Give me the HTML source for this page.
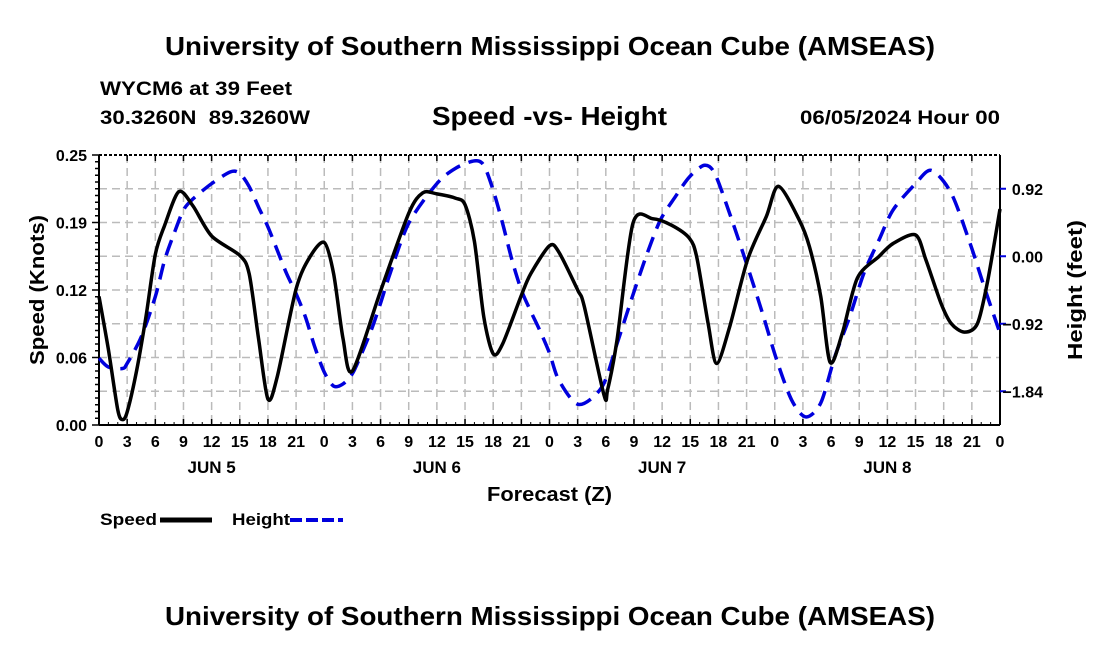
<!DOCTYPE html>
<html><head><meta charset="utf-8"><style>
html,body{margin:0;padding:0;background:#fff;}
svg{display:block;font-family:"Liberation Sans",Arial,sans-serif;font-weight:bold;}
</style></head><body>
<svg id="chart" width="1100" height="650" viewBox="0 0 1100 650">
<text x="165" y="55" font-size="26" textLength="770" lengthAdjust="spacingAndGlyphs">University of Southern Mississippi Ocean Cube (AMSEAS)</text>
<text x="100" y="95" font-size="19" textLength="192" lengthAdjust="spacingAndGlyphs">WYCM6 at 39 Feet</text>
<text x="100" y="124" font-size="19" textLength="210" lengthAdjust="spacingAndGlyphs" xml:space="preserve">30.3260N  89.3260W</text>
<text x="432" y="125" font-size="26" textLength="235" lengthAdjust="spacingAndGlyphs">Speed -vs- Height</text>
<text x="800" y="124" font-size="19" textLength="200" lengthAdjust="spacingAndGlyphs">06/05/2024 Hour 00</text>
<g id="grid"></g>
<g id="axes"></g>
<g id="series"></g>
<text transform="translate(44,290) rotate(-90)" text-anchor="middle" font-size="20" textLength="150" lengthAdjust="spacingAndGlyphs">Speed (Knots)</text>
<text transform="translate(1082,290) rotate(-90)" text-anchor="middle" font-size="20" textLength="140" lengthAdjust="spacingAndGlyphs">Height (feet)</text>
<text x="487" y="501" font-size="20" textLength="125" lengthAdjust="spacingAndGlyphs">Forecast (Z)</text>
<g>
<text x="100" y="525" font-size="17" textLength="57" lengthAdjust="spacingAndGlyphs">Speed</text>
<line x1="160" y1="520" x2="212" y2="520" stroke="#000" stroke-width="5"/>
<text x="232" y="525" font-size="17" textLength="58" lengthAdjust="spacingAndGlyphs">Height</text>
<line x1="290" y1="520" x2="343" y2="520" stroke="#0000dd" stroke-width="4" stroke-dasharray="12,4"/>
</g>
<text x="165" y="625" font-size="26" textLength="770" lengthAdjust="spacingAndGlyphs">University of Southern Mississippi Ocean Cube (AMSEAS)</text>
</svg>
<script>
const speedHours=[0,1,2,2.5,3,4,5,6,7,8.5,10,12,15,16,17,18,19,21,22.5,24,25,26,27,30,33,34.5,36,38,39,40,41,42,43,45,46,48,49,51,51.7,53.8,54.2,55.2,56.9,59,61,62.9,63.7,64.9,65.8,67.2,69.1,71.1,72.4,74.6,75.7,76.9,77.9,79.2,80.8,83.1,84.6,87,88.1,89.7,90.8,92.2,93.6,94.7,96];
const speedValues=[0.119,0.07,0.014,0.005,0.012,0.05,0.10,0.158,0.185,0.216,0.203,0.175,0.157,0.14,0.08,0.024,0.045,0.126,0.156,0.169,0.14,0.08,0.05,0.124,0.196,0.215,0.214,0.21,0.204,0.17,0.10,0.066,0.075,0.12,0.14,0.166,0.16,0.125,0.11,0.028,0.033,0.079,0.187,0.191,0.185,0.173,0.155,0.094,0.057,0.091,0.153,0.193,0.221,0.19,0.165,0.119,0.058,0.085,0.136,0.156,0.168,0.176,0.153,0.113,0.094,0.086,0.094,0.134,0.200];
const heightHours=[0,1,2.5,3,4.5,6,7,8,9,10,12,14,15,16,17,18,19,20,21,22,23,24,25,26,27,28,29,30,31,33,36,38,40,41,42,43,44,45,46,47,48,49,51.1,53.6,55.2,56.7,58.3,59.8,61.4,62.9,64.5,65.6,67.2,69.1,70.7,72.2,73.8,75.3,76.9,78.4,80,81.5,83.1,84.6,87,88.7,90.8,92.8,94.3,96];
const heightValues=[-1.39,-1.51,-1.53,-1.46,-1.10,-0.55,-0.05,0.31,0.63,0.78,0.99,1.15,1.13,0.95,0.67,0.40,0.08,-0.24,-0.51,-0.83,-1.24,-1.58,-1.77,-1.74,-1.60,-1.32,-1.01,-0.64,-0.24,0.45,0.99,1.20,1.30,1.24,0.90,0.45,-0.05,-0.46,-0.75,-1.02,-1.32,-1.69,-2.02,-1.78,-1.19,-0.60,0.0,0.49,0.81,1.08,1.24,1.13,0.58,-0.14,-0.78,-1.41,-1.96,-2.19,-2.0,-1.37,-0.82,-0.23,0.22,0.63,0.99,1.17,0.86,0.18,-0.41,-1.05];
const leftTickValues=[0,0.0625,0.125,0.1875,0.25];
const leftTickLabels=["0.00","0.06","0.12","0.19","0.25"];
const rightTickValues=[0.92,0,-0.92,-1.84];
const rightTickLabels=["0.92","0.00","\u22120.92","\u22121.84"];
const xTickLabels=["0","3","6","9","12","15","18","21"];
const dayLabels=["JUN 5","JUN 6","JUN 7","JUN 8"];

const L=99,R=1000,T=155,B=425;
const HMAX=96,SMAX=0.25,HTOP=1.38,HBOT=-2.30;
const xs=h=>L+(h/HMAX)*(R-L);
const ys=v=>B-(v/SMAX)*(B-T);
const yh=v=>B-(v-HBOT)/(HTOP-HBOT)*(B-T);
const NS="http://www.w3.org/2000/svg";
function mk(tag,attrs,parent){const e=document.createElementNS(NS,tag);for(const k in attrs)e.setAttribute(k,attrs[k]);parent.appendChild(e);return e;}
const grid=document.getElementById('grid'),axes=document.getElementById('axes'),series=document.getElementById('series');
for(let h=3;h<HMAX;h+=3){const g=mk('line',{x1:xs(h),x2:xs(h),y1:T,y2:B,stroke:'#bbb','stroke-width':1.5,'stroke-dasharray':'8,5'},grid);

}
for(let i=1;i<8;i++){const v=SMAX*i/8;const g=mk('line',{x1:L,x2:R,y1:ys(v),y2:ys(v),stroke:'#bbb','stroke-width':1.5,'stroke-dasharray':'8,5'},grid);

}
mk('line',{x1:L,x2:L,y1:T,y2:B,stroke:'#000','stroke-width':2},axes);
mk('line',{x1:L,x2:R,y1:B,y2:B,stroke:'#000','stroke-width':2},axes);
mk('line',{x1:R,x2:R,y1:T,y2:B,stroke:'#000','stroke-width':2},axes);
mk('line',{x1:L,x2:R,y1:T,y2:T,stroke:'#000','stroke-width':2,'stroke-dasharray':'3,2'},axes);
for(let i=0;i<=40;i++){const v=SMAX*i/40;const major=i%10==0;mk('line',{x1:L-(major?7:4),x2:L,y1:ys(v),y2:ys(v),stroke:'#000','stroke-width':1.5},axes);}
leftTickValues.forEach((v,i)=>{const t=mk('text',{x:L-12,y:ys(v)+6,'text-anchor':'end','font-size':16},axes);t.textContent=leftTickLabels[i];

});
rightTickValues.forEach((v,i)=>{mk('line',{x1:R,x2:R+6,y1:yh(v),y2:yh(v),stroke:'#0000dd','stroke-width':2},axes);
const t=mk('text',{x:1043,y:yh(v)+6,'text-anchor':'end','font-size':16},axes);t.textContent=rightTickLabels[i];

});
for(let h=0;h<=HMAX;h+=3){const x=xs(h);
mk('line',{x1:x,x2:x,y1:B,y2:B-6,stroke:'#000','stroke-width':1.5},axes);
mk('line',{x1:x,x2:x,y1:T,y2:T+6,stroke:'#000','stroke-width':1.5},axes);
const t=mk('text',{x:x,y:B+22,'text-anchor':'middle','font-size':16},axes);t.textContent=xTickLabels[(h/3)%8];

}
for(let h=1;h<HMAX;h++){if(h%3){mk('line',{x1:xs(h),x2:xs(h),y1:B,y2:B-3,stroke:'#000','stroke-width':1},axes);}}
dayLabels.forEach((d,i)=>{const t=mk('text',{x:xs(12+24*i),y:B+48,'text-anchor':'middle','font-size':17},axes);t.textContent=d;

});
function path(hs,vs,yf){const p=hs.map((h,i)=>[xs(h),yf(vs[i])]);let d='M'+p[0][0]+','+p[0][1];
for(let i=0;i<p.length-1;i++){const p0=p[Math.max(0,i-1)],p1=p[i],p2=p[i+1],p3=p[Math.min(p.length-1,i+2)];
const k=7;const c1=[p1[0]+(p2[0]-p0[0])/k,p1[1]+(p2[1]-p0[1])/k],c2=[p2[0]-(p3[0]-p1[0])/k,p2[1]-(p3[1]-p1[1])/k];
d+=' C'+c1+' '+c2+' '+p2;}return d;}
const hp=mk('path',{d:path(heightHours,heightValues,yh),fill:'none',stroke:'#0000dd','stroke-width':3.5,'stroke-dasharray':'16,9'},series);


const sp=mk('path',{d:path(speedHours,speedValues,ys),fill:'none',stroke:'#000','stroke-width':3.5,'stroke-linejoin':'round'},series);


</script>
</body></html>
